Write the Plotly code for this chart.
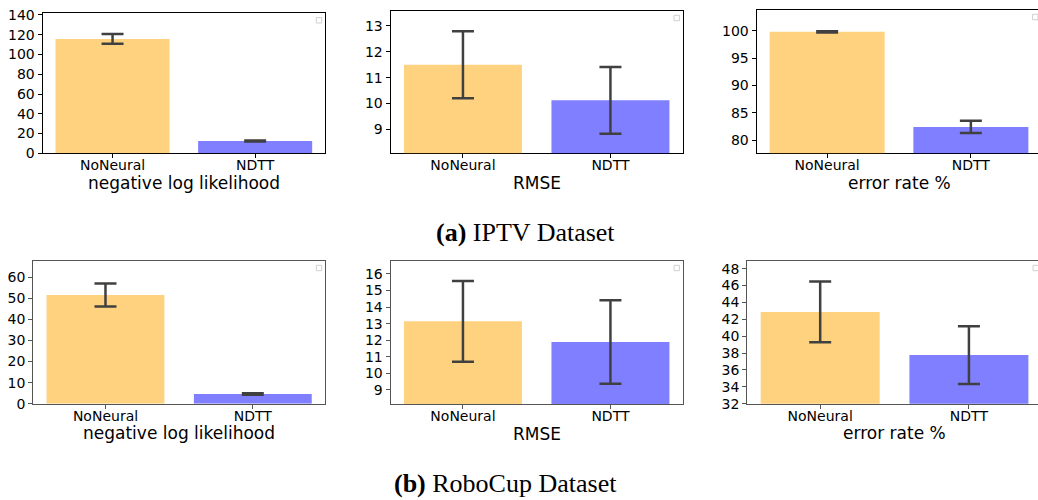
import plotly.graph_objects as go

W, H = 1038, 500

# ---- data ----
categories = ["NoNeural", "NDTT"]

iptv_nll = [115.8, 12.5]
iptv_nll_err = [5.0, 0.5]
iptv_rmse = [11.5, 10.12]
iptv_rmse_err = [1.3, 1.29]
iptv_error_rate = [99.8, 82.45]
iptv_error_rate_err = [0.12, 1.12]

robo_nll = [51.6, 4.6]
robo_nll_err = [5.45, 0.3]
robo_rmse = [13.14, 11.9]
robo_rmse_err = [2.43, 2.52]
robo_error_rate = [42.87, 37.76]
robo_error_rate_err = [3.59, 3.42]

metric_labels = ["negative log likelihood", "RMSE", "error rate %"]
captions = ["<b>(a)</b> IPTV Dataset", "<b>(b)</b> RoboCup Dataset"]

y_ticks = [
    list(range(0, 141, 20)),
    list(range(9, 14)),
    list(range(80, 101, 5)),
    list(range(0, 61, 10)),
    list(range(9, 17)),
    list(range(32, 49, 2)),
]

# ---- styling / placement (pixels) ----
bar_colors = ["rgba(255,165,0,0.5)", "rgba(0,0,255,0.5)"]
err_color = "#404040"
tick_font = dict(family="DejaVu Sans", size=14, color="black")
label_font = dict(family="DejaVu Sans", size=17, color="black")
caption_font = dict(family="Liberation Serif", size=26, color="black")

# (left, right, top, bottom) of each axes box, x-range, y-range, spine colour
boxes = [
    (42.7, 325.0, 13.3, 153.3, [-0.49, 1.49], [0, 141.7], "black"),
    (390.7, 682.7, 11.0, 153.3, [-0.49, 1.49], [8.07, 13.58], "black"),
    (756.7, 1041.3, 10.0, 153.3, [-0.49, 1.49], [77.63, 103.78], "black"),
    (33.3, 325.0, 261.0, 403.7, [-0.49, 1.49], [0, 67.7], "#555555"),
    (390.7, 682.7, 261.0, 404.0, [-0.49, 1.49], [8.155, 16.78], "#555555"),
    (747.3, 1041.8, 261.0, 403.7, [-0.49, 1.49], [32, 48.9], "#555555"),
]

series = [
    (iptv_nll, iptv_nll_err),
    (iptv_rmse, iptv_rmse_err),
    (iptv_error_rate, iptv_error_rate_err),
    (robo_nll, robo_nll_err),
    (robo_rmse, robo_rmse_err),
    (robo_error_rate, robo_error_rate_err),
]

fig = go.Figure()
layout = dict(
    width=W, height=H,
    margin=dict(l=0, r=0, t=0, b=0, autoexpand=False),
    paper_bgcolor="white", plot_bgcolor="white",
    showlegend=False,
)
annotations = []
shapes = []

for i, ((vals, errs), box, yt) in enumerate(zip(series, boxes, y_ticks)):
    n = i + 1
    left, right_full, top, bottom, xr, yr, spine = box
    right = right_full
    # clip boxes that run past the page edge, keeping the same scale
    px_per_unit = (right - left) / (xr[1] - xr[0])
    if right > W:
        xr = [xr[0], xr[0] + (W - left) / px_per_unit]
        right = W
        mirror_y = False
    else:
        mirror_y = True
    xa = "xaxis" if n == 1 else f"xaxis{n}"
    ya = "yaxis" if n == 1 else f"yaxis{n}"
    xref = "x" if n == 1 else f"x{n}"
    yref = "y" if n == 1 else f"y{n}"

    fig.add_trace(go.Bar(
        x=categories, y=vals, width=0.8,
        marker=dict(color=bar_colors, line=dict(width=0)),
        error_y=dict(type="data", array=errs, color=err_color, thickness=2.5, width=11),
        xaxis=xref, yaxis=yref,
    ))

    layout[xa] = dict(
        domain=[left / W, right / W], anchor=yref,
        type="category", range=xr,
        showline=True, linecolor=spine, linewidth=1.3, mirror=True,
        ticks="outside", ticklen=4, tickcolor=spine,
        tickfont=tick_font, showgrid=False, zeroline=False,
        ticklabelstandoff=-5,
        layer="below traces",
    )
    layout[ya] = dict(
        domain=[1 - bottom / H, 1 - top / H], anchor=xref,
        range=yr, tickvals=yt,
        showline=True, linecolor=spine, linewidth=1.3, mirror=mirror_y,
        ticks="outside", ticklen=4, tickcolor=spine,
        tickfont=tick_font, showgrid=False, zeroline=False,
        layer="below traces",
    )

    # axis label below the category names
    annotations.append(dict(
        x=(left + right_full) / 2 / W,
        y=1 - (bottom + 29.5) / H,
        xref="paper", yref="paper", text=metric_labels[i % 3],
        showarrow=False, font=label_font, xanchor="center", yanchor="middle",
    ))

    # empty legend frame in the upper-right corner
    lx = right_full - 6
    ly = top + 7
    shapes.append(dict(
        type="rect", xref="paper", yref="paper",
        x0=(lx - 2.7) / W, x1=(lx + 2.7) / W,
        y0=1 - (ly + 2.7) / H, y1=1 - (ly - 2.7) / H,
        line=dict(color="#d0d0d0", width=1), fillcolor="white",
    ))

annotations.append(dict(
    x=525 / W, y=1 - 233 / H, xref="paper", yref="paper", text=captions[0],
    showarrow=False, font=caption_font, xanchor="center", yanchor="middle",
))
annotations.append(dict(
    x=505.5 / W, y=1 - 483 / H, xref="paper", yref="paper", text=captions[1],
    showarrow=False, font=caption_font, xanchor="center", yanchor="middle",
))

layout["annotations"] = annotations
layout["shapes"] = shapes
fig.update_layout(**layout)
fig.write_html("out.html")
